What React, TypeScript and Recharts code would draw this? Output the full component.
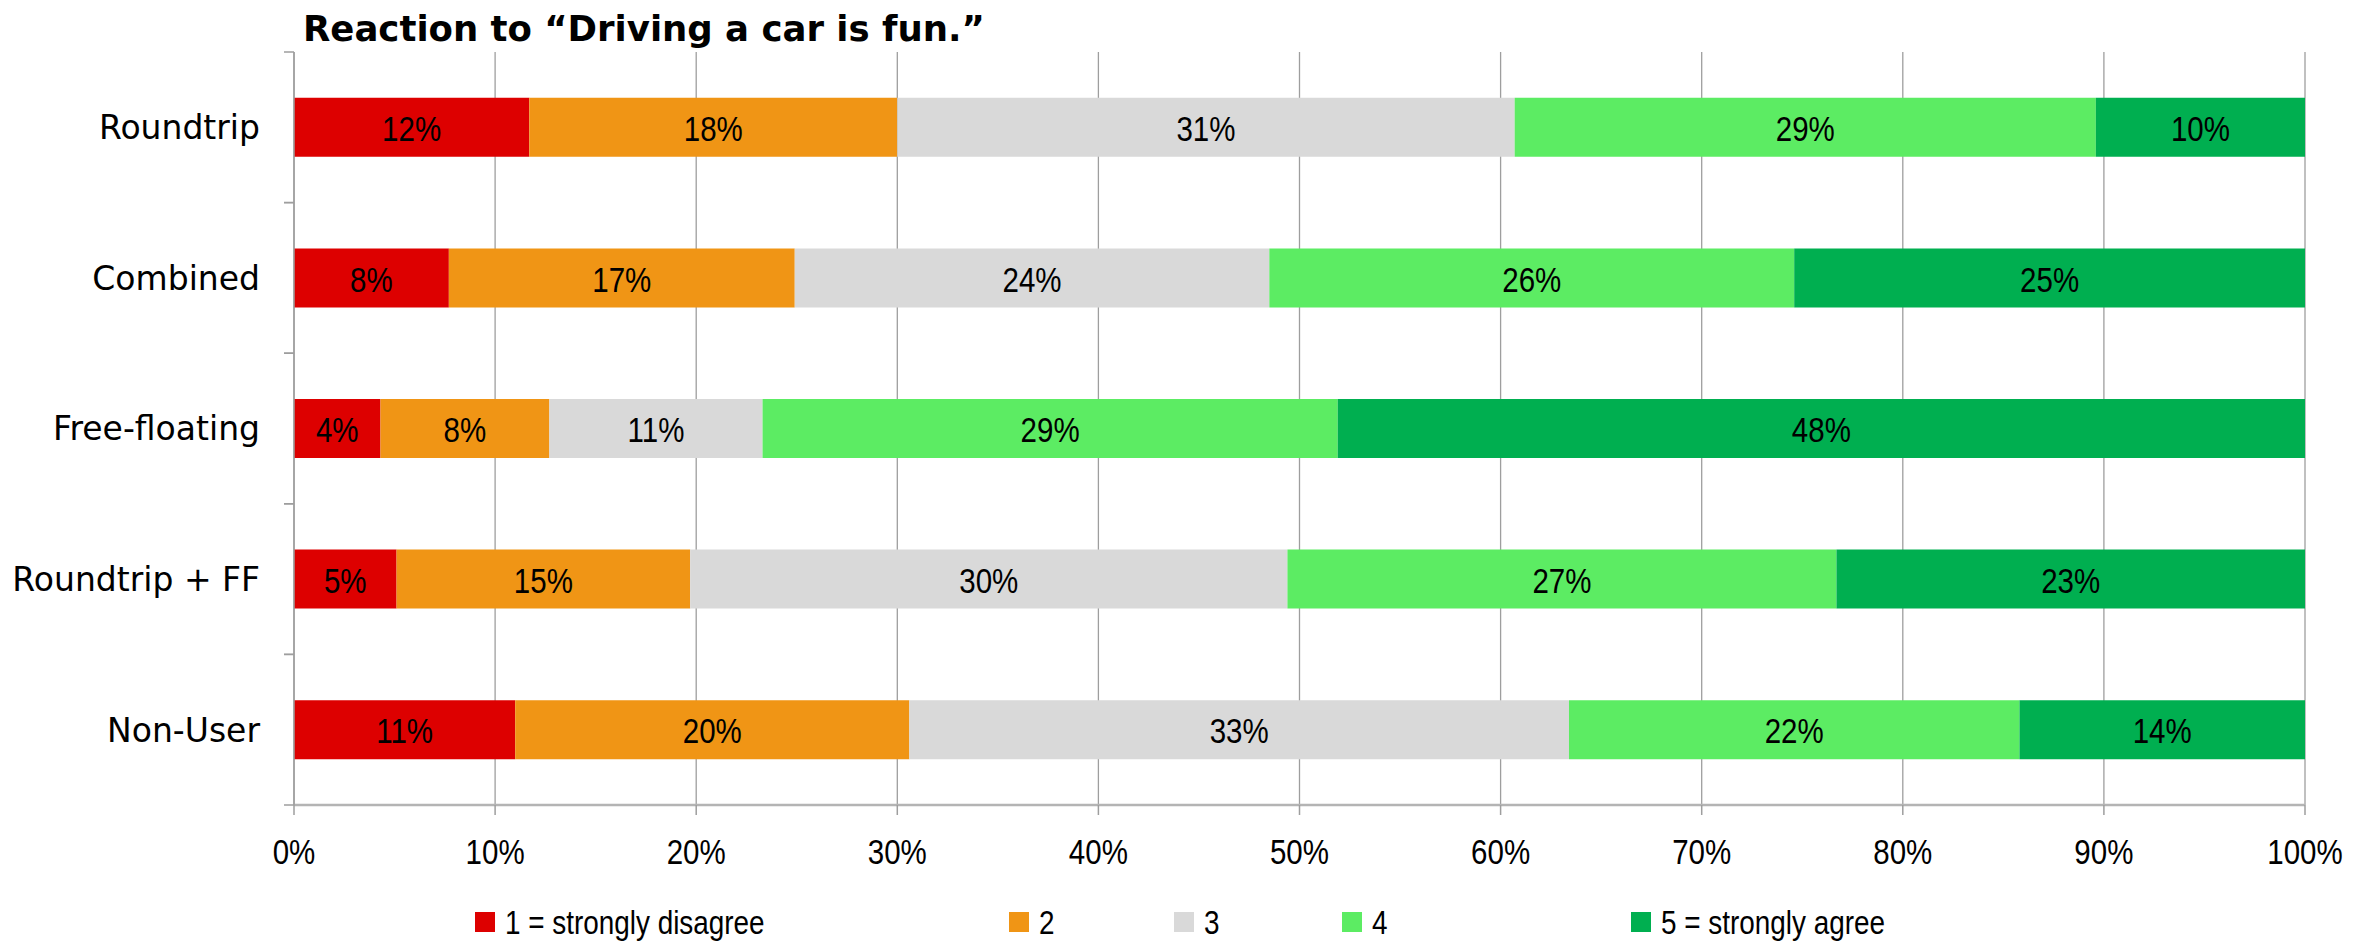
import React from 'react';
import { BarChart, Bar, XAxis, YAxis, CartesianGrid, Legend, LabelList } from 'recharts';

const categories = ['Roundtrip', 'Combined', 'Free-floating', 'Roundtrip + FF', 'Non-User'];
const stronglyDisagree = [11.7, 7.7, 4.3, 5.1, 11.0];
const disagree = [18.3, 17.2, 8.4, 14.6, 19.6];
const neutral = [30.7, 23.6, 10.6, 29.7, 32.8];
const agree = [28.9, 26.1, 28.6, 27.3, 22.4];
const stronglyAgree = [10.4, 25.4, 48.1, 23.3, 14.2];
const xTicks = [0, 10, 20, 30, 40, 50, 60, 70, 80, 90, 100];
const seriesNames = ['1 = strongly disagree', '2', '3', '4', '5 = strongly agree'];
const seriesKeys = ['s1', 's2', 's3', 's4', 's5'];
const seriesColors = ['#DD0000', '#F09515', '#D9D9D9', '#5CEC63', '#00AF50'];
const seriesValues = [stronglyDisagree, disagree, neutral, agree, stronglyAgree];
const titleText = 'Reaction to \u201cDriving a car is fun.\u201d';

const data = categories.map((c, i) => {
  const row: any = { category: c };
  seriesKeys.forEach((k, j) => {
    row[k] = seriesValues[j][i];
  });
  return row;
});

const NARROW = "'Liberation Sans', Arial, sans-serif";
const SQUEEZE = 0.82;
const WIDE = "'DejaVu Sans', Verdana, sans-serif";
const GRID = '#9E9E9E';
const legendWidths = [534, 165, 168, 289, 400];

const CategoryTick = (props: any) => {
  const { x, y, payload } = props;
  const half = payload && typeof payload.offset === 'number' ? payload.offset : 0;
  const x1 = x + 24;
  const x2 = x + 34;
  return (
    <g>
      <line x1={x1} x2={x2} y1={y - half} y2={y - half} stroke={GRID} strokeWidth={1.5} />
      <line x1={x1} x2={x2} y1={y + half} y2={y + half} stroke={GRID} strokeWidth={1.5} />
      <text x={x} y={y} dy="0.36em" textAnchor="end" fontFamily={WIDE} fontSize={33} fill="#000">
        {payload.value}
      </text>
    </g>
  );
};

const PercentTick = (props: any) => {
  const { x, y, payload } = props;
  return (
    <text
      transform={`translate(${x},${y}) scale(${SQUEEZE},1)`}
      x={0}
      y={0}
      dy="0.71em"
      textAnchor="middle"
      fontFamily={NARROW}
      fontSize={36}
      fill="#000"
    >
      {`${payload.value}%`}
    </text>
  );
};

const BarValueLabel = (props: any) => {
  const { x, y, width, height, value } = props;
  const cx = Number(x) + Number(width) / 2;
  const cy = Number(y) + Number(height) / 2;
  return (
    <text
      transform={`translate(${cx},${cy}) scale(${SQUEEZE},1)`}
      x={0}
      y={0}
      dy="0.38em"
      textAnchor="middle"
      fontFamily={NARROW}
      fontSize={36}
      fill="#000"
    >
      {`${Math.round(Number(value))}%`}
    </text>
  );
};

const LegendContent = (props: any) => {
  const payload = props.payload || [];
  return (
    <div style={{ display: 'flex', alignItems: 'center', paddingLeft: 475, height: 50 }}>
      {payload.map((p: any, i: number) => (
        <div key={i} style={{ width: legendWidths[i], display: 'flex', alignItems: 'center', flex: 'none' }}>
          <span style={{ width: 20, height: 20, background: p.color, marginRight: 10, flex: 'none', display: 'inline-block' }} />
          <span
            style={{
              fontFamily: NARROW,
              fontSize: 34,
              color: '#000',
              whiteSpace: 'nowrap',
              lineHeight: '40px',
              display: 'inline-block',
              transform: `scaleX(${SQUEEZE})`,
              transformOrigin: 'left center',
            }}
          >
            {p.value}
          </span>
        </div>
      ))}
    </div>
  );
};

export default function App() {
  return (
    <div style={{ position: 'absolute', left: 0, top: 0, width: 2372, height: 944, background: '#fff' }}>
      <div
        style={{
          position: 'absolute',
          left: 303,
          top: 11,
          fontFamily: WIDE,
          fontWeight: 'bold',
          fontSize: 35.5,
          lineHeight: '36px',
          color: '#000',
          whiteSpace: 'nowrap',
        }}
      >
        {titleText}
      </div>
      <BarChart
        width={2372}
        height={944}
        data={data}
        layout="vertical"
        margin={{ top: 52, right: 67, bottom: 9, left: 0 }}
        barCategoryGap="30.4%"
      >
        <CartesianGrid horizontal={false} vertical={true} stroke={GRID} strokeWidth={1.3} />
        <XAxis
          type="number"
          domain={[0, 100]}
          ticks={xTicks}
          height={80}
          tickSize={10}
          tickMargin={23}
          axisLine={{ stroke: '#B4B4B4', strokeWidth: 2.5 }}
          tickLine={{ stroke: GRID, strokeWidth: 1.5 }}
          tick={<PercentTick />}
          allowDataOverflow
        />
        <YAxis
          type="category"
          dataKey="category"
          width={294}
          tickSize={10}
          tickMargin={24}
          tickLine={false}
          axisLine={{ stroke: GRID, strokeWidth: 1.5 }}
          tick={<CategoryTick />}
          interval={0}
        />
        <Legend
          verticalAlign="bottom"
          align="left"
          content={<LegendContent />}
          wrapperStyle={{ left: 0, top: 897, width: 2372, height: 50 }}
        />
        {seriesKeys.map((k, j) => (
          <Bar
            key={k}
            dataKey={k}
            name={seriesNames[j]}
            stackId="a"
            fill={seriesColors[j]}
            isAnimationActive={false}
          >
            <LabelList dataKey={k} content={<BarValueLabel />} />
          </Bar>
        ))}
      </BarChart>
    </div>
  );
}
